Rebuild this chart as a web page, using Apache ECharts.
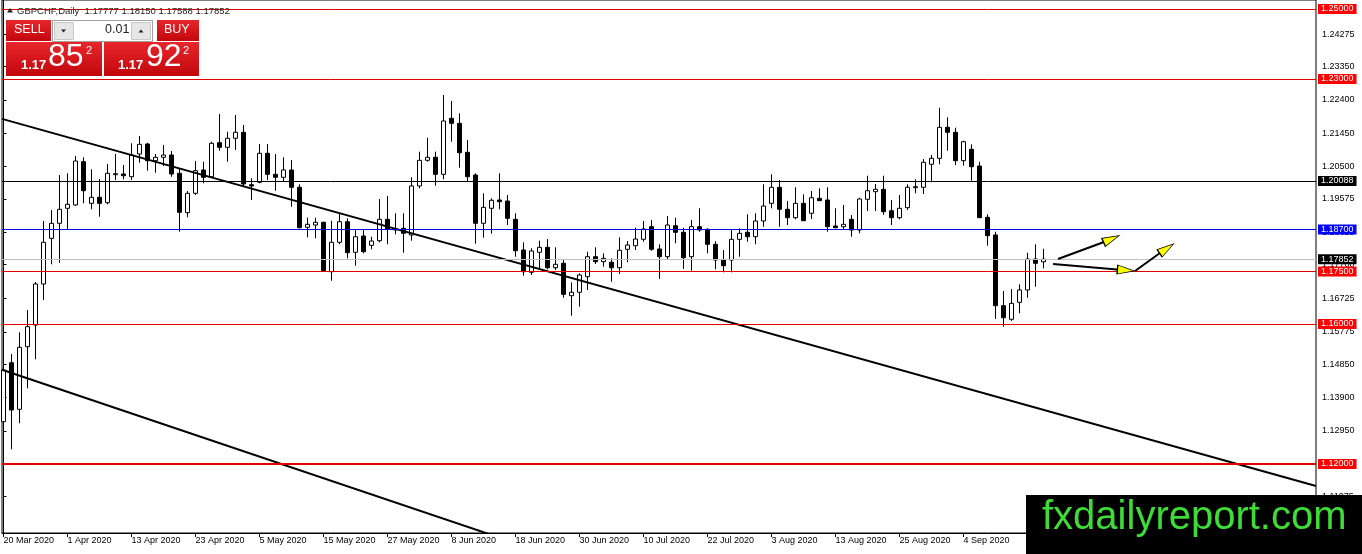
<!DOCTYPE html>
<html>
<head>
<meta charset="utf-8">
<title>GBPCHF Daily</title>
<script src="https://cdn.jsdelivr.net/npm/echarts@6/dist/echarts.min.js"></script>
<style>
html, body { margin: 0; padding: 0; background: #fff; }
#chart { width: 1362px; height: 554px; }
</style>
</head>
<body>
<div id="chart"></div>
<script>
// daily bars, index 0 = 20 Mar 2020 (weekdays only)
var opens = [
  1.13208, 1.14894, 1.13563, 1.15351, 1.15971, 1.17143, 1.18448, 1.18877, 1.19306, 1.19400,
  1.20637, 1.19448, 1.19620, 1.19466, 1.20266, 1.20286, 1.20208, 1.20857, 1.21143, 1.20666,
  1.20763, 1.20828, 1.20306, 1.19180, 1.19734, 1.20400, 1.20208, 1.21180, 1.21048, 1.21306,
  1.21477, 1.19980, 1.20048, 1.20877, 1.20277, 1.20191, 1.20400, 1.19906, 1.18763, 1.18828,
  1.18906, 1.17494, 1.18334, 1.18923, 1.18048, 1.18514, 1.18248, 1.18380, 1.18991, 1.18714,
  1.18734, 1.18543, 1.19943, 1.20677, 1.20763, 1.20277, 1.21877, 1.21734, 1.20906, 1.20257,
  1.18877, 1.19306, 1.19543, 1.19514, 1.18991, 1.18114, 1.17477, 1.18048, 1.18191, 1.17608,
  1.17734, 1.16808, 1.16906, 1.17351, 1.17923, 1.17780, 1.17763, 1.17608, 1.18134, 1.18237,
  1.18420, 1.18780, 1.18143, 1.17923, 1.18808, 1.18620, 1.17923, 1.18780, 1.18706, 1.18277,
  1.17828, 1.17828, 1.18420, 1.18620, 1.18494, 1.18943, 1.19448, 1.19906, 1.19277, 1.19037,
  1.19448, 1.19163, 1.19591, 1.19543, 1.18800, 1.18780, 1.18991, 1.18686, 1.19563, 1.19780,
  1.19848, 1.19237, 1.19037, 1.19323, 1.19894, 1.19906, 1.20563, 1.20734, 1.21620, 1.21477,
  1.20666, 1.20991, 1.20514, 1.19048, 1.18543, 1.16523, 1.16134, 1.16620, 1.16971, 1.17857,
  1.17777
];
var highs = [
  1.17066, 1.15143, 1.15763, 1.16400, 1.17200, 1.18943, 1.19257, 1.20257, 1.20306, 1.20800,
  1.20763, 1.20420, 1.20143, 1.20571, 1.20857, 1.20543, 1.21163, 1.21371, 1.21180, 1.20857,
  1.21114, 1.20943, 1.20448, 1.19800, 1.20657, 1.20637, 1.21208, 1.22000, 1.21494, 1.21971,
  1.21686, 1.20163, 1.21143, 1.21143, 1.20857, 1.20763, 1.20686, 1.19991, 1.19037, 1.19037,
  1.18923, 1.18951, 1.19163, 1.19020, 1.18714, 1.18714, 1.18494, 1.19571, 1.19657, 1.19163,
  1.19163, 1.20191, 1.20923, 1.21323, 1.20923, 1.22543, 1.22371, 1.22020, 1.21257, 1.20306,
  1.19734, 1.19591, 1.20306, 1.19686, 1.19163, 1.18334, 1.18163, 1.18380, 1.18428, 1.18191,
  1.17857, 1.17191, 1.17448, 1.18066, 1.18191, 1.18020, 1.17877, 1.18477, 1.18371, 1.18751,
  1.18943, 1.18971, 1.18277, 1.19086, 1.19037, 1.18751, 1.18971, 1.19306, 1.18734, 1.18371,
  1.18114, 1.18706, 1.18734, 1.19134, 1.19163, 1.19991, 1.20277, 1.20114, 1.19514, 1.19906,
  1.19706, 1.19800, 1.19877, 1.19906, 1.19306, 1.19400, 1.19114, 1.19608, 1.20237, 1.20000,
  1.20237, 1.19543, 1.19686, 1.19991, 1.20134, 1.20714, 1.20828, 1.22180, 1.21906, 1.21608,
  1.21237, 1.21134, 1.20637, 1.19134, 1.18637, 1.16943, 1.17000, 1.17134, 1.18037, 1.18277,
  1.18150
];
var lows = [
  1.12686, 1.12420, 1.13163, 1.14163, 1.14991, 1.16686, 1.17706, 1.17751, 1.18686, 1.19371,
  1.19448, 1.19277, 1.19066, 1.19420, 1.20114, 1.20134, 1.20114, 1.20608, 1.20380, 1.20323,
  1.20514, 1.20208, 1.18637, 1.19048, 1.19686, 1.20020, 1.20191, 1.20951, 1.20637, 1.20971,
  1.19943, 1.19543, 1.20020, 1.20114, 1.19808, 1.20066, 1.19351, 1.18734, 1.18477, 1.18448,
  1.17494, 1.17237, 1.18277, 1.17877, 1.17666, 1.18020, 1.18134, 1.18334, 1.18277, 1.18563,
  1.18037, 1.18380, 1.19877, 1.20637, 1.19951, 1.20134, 1.21208, 1.20466, 1.20086, 1.18294,
  1.18466, 1.18580, 1.19277, 1.18828, 1.17923, 1.17380, 1.17400, 1.17543, 1.17563, 1.17543,
  1.16751, 1.16237, 1.16494, 1.16971, 1.17714, 1.17637, 1.17208, 1.17428, 1.17763, 1.18114,
  1.18351, 1.18094, 1.17286, 1.17857, 1.18306, 1.17571, 1.17523, 1.18637, 1.18020, 1.17563,
  1.17477, 1.17477, 1.17923, 1.18351, 1.18277, 1.18780, 1.19306, 1.18780, 1.18828, 1.18991,
  1.18943, 1.19000, 1.19514, 1.18637, 1.18734, 1.18686, 1.18494, 1.18591, 1.19228, 1.19228,
  1.19114, 1.18828, 1.18991, 1.19257, 1.19734, 1.19714, 1.20048, 1.20563, 1.20951, 1.20543,
  1.20523, 1.20094, 1.19037, 1.18237, 1.16143, 1.15923, 1.16086, 1.16306, 1.16751, 1.17066,
  1.17588
];
var closes = [
  1.14686, 1.13543, 1.15334, 1.15923, 1.17143, 1.18334, 1.18877, 1.19277, 1.19420, 1.20657,
  1.19808, 1.19620, 1.19448, 1.20306, 1.20294, 1.20237, 1.20828, 1.21134, 1.20666, 1.20763,
  1.20828, 1.20286, 1.19191, 1.19734, 1.20380, 1.20191, 1.21163, 1.21048, 1.21306, 1.21477,
  1.20000, 1.19943, 1.20877, 1.20277, 1.20191, 1.20400, 1.19906, 1.18751, 1.18848, 1.18906,
  1.17523, 1.18334, 1.18923, 1.18037, 1.18494, 1.18066, 1.18371, 1.18991, 1.18706, 1.18686,
  1.18591, 1.19943, 1.20677, 1.20763, 1.20277, 1.21800, 1.21734, 1.20894, 1.20208, 1.18877,
  1.19334, 1.19534, 1.19494, 1.19020, 1.18094, 1.17494, 1.18086, 1.18191, 1.17608, 1.17706,
  1.16848, 1.16906, 1.17400, 1.17923, 1.17780, 1.17877, 1.17608, 1.18106, 1.18257, 1.18428,
  1.18714, 1.18134, 1.17923, 1.18828, 1.18620, 1.17894, 1.18780, 1.18686, 1.18277, 1.17828,
  1.17666, 1.18420, 1.18591, 1.18494, 1.18943, 1.19371, 1.19906, 1.19277, 1.19037, 1.19448,
  1.18951, 1.19608, 1.19523, 1.18780, 1.18751, 1.18848, 1.18686, 1.19571, 1.19808, 1.19848,
  1.19208, 1.19037, 1.19306, 1.19906, 1.19923, 1.20620, 1.20734, 1.21620, 1.21477, 1.20666,
  1.21208, 1.20494, 1.19037, 1.18523, 1.16523, 1.16180, 1.16591, 1.16971, 1.17857, 1.17734,
  1.17852
];

var askPrice = 1.17922;

// bottom axis: bar index -> date label
var xTickIdx = [0, 8, 16, 24, 32, 40, 48, 56, 64, 72, 80, 88, 96, 104, 112, 120, 128];
var xTickText = ['20 Mar 2020', '1 Apr 2020', '13 Apr 2020', '23 Apr 2020', '5 May 2020',
  '15 May 2020', '27 May 2020', '8 Jun 2020', '18 Jun 2020', '30 Jun 2020', '10 Jul 2020',
  '22 Jul 2020', '3 Aug 2020', '13 Aug 2020', '25 Aug 2020', '4 Sep 2020', '16 Sep 2020'];

// right axis ticks
var yTicks = [1.24275, 1.23350, 1.22400, 1.21450, 1.20500, 1.19575, 1.18625, 1.17700,
  1.16725, 1.15775, 1.14850, 1.13900, 1.12950, 1.12000, 1.11075];

// horizontal levels
var levels = [1.25000, 1.23000, 1.20088, 1.18700, 1.17852, 1.17500, 1.16000, 1.12000];

// trend lines [barIndex, price]
var trendUpper = [[-0.1875, 1.21860], [164.0625, 1.11371]];
var trendLower = [[-0.1875, 1.14694], [80, 1.08509]];

// arrows drawn on the chart
var arrowLines = [
  [[131.81, 1.17857], [137.56, 1.18343]],
  [[131.19, 1.17714], [139.19, 1.17557]],
  [[141.44, 1.17514], [144.56, 1.18029]]
];
var arrowHeads = [[138.49, 1.18429], [140.30, 1.17536], [145.40, 1.18157]];
var arrowHeadRotate = [-66.5, -94.7, -56];

var X_MIN = -0.1875, X_MAX = 164.0625;
var FONT = '"Liberation Sans", Arial, sans-serif';
var RED_LINE = '#e00000';

// null line colour = default red
var levelStyle = [
  { line: null, box: '#ff0000', w: 1 },
  { line: null, box: '#ff0000', w: 1 },
  { line: '#000000', box: '#000000', w: 1 },
  { line: '#0000e0', box: '#0000ff', w: 1 },
  { line: '#c0c0c0', box: '#000000', w: 1 },
  { line: null, box: '#ff0000', w: 1 },
  { line: null, box: '#ff0000', w: 1 },
  { line: null, box: '#ff0000', w: 2 }
];

var last = closes.length - 1;
var candleData = opens.map(function (o, i) {
  return [i, o, closes[i], lows[i], highs[i]];
});

var levelLines = levels.map(function (v, i) {
  var s = levelStyle[i];
  var item = { yAxis: v, label: { backgroundColor: s.box } };
  if (s.line || s.w !== 1) {
    item.lineStyle = { color: s.line || RED_LINE, width: s.w, type: 'solid', opacity: 1 };
  }
  return item;
});

var headerText = 'GBPCHF,Daily  ' + [opens[last], highs[last], lows[last], closes[last]]
  .map(function (v) { return v.toFixed(5); }).join(' ');

function priceParts(v) {
  var s = v.toFixed(5);
  return [s.slice(0, 4), s.slice(4, 6), s.slice(6)];
}
var bidParts = priceParts(closes[last]);
var askParts = priceParts(askPrice);

var panelRed = {
  type: 'linear', x: 0, y: 0, x2: 0, y2: 1,
  colorStops: [{ offset: 0, color: '#e8262b' }, { offset: 1, color: '#c1070c' }]
};

function txt(x, y, s, size, color, weight) {
  return {
    type: 'text', x: x, y: y, z: 100,
    style: { text: s, fill: color, font: (weight || 'normal') + ' ' + size + 'px ' + FONT }
  };
}

var graphics = [
  { type: 'polygon', z: 100, shape: { points: [[7, 12.5], [13, 12.5], [10, 8]] }, style: { fill: '#222' } },
  txt(17, 6, headerText, 9.5, '#222'),
  { type: 'rect', z: 100, shape: { x: 6, y: 20, width: 45, height: 21 }, style: { fill: panelRed } },
  { type: 'line', z: 101, shape: { x1: 10, y1: 41.5, x2: 48, y2: 41.5 }, style: { stroke: 'rgba(255,255,255,0.6)' } },
  txt(14, 23.5, 'SELL', 12.5, '#fff'),
  { type: 'rect', z: 100, shape: { x: 52.5, y: 20.5, width: 100, height: 21 }, style: { fill: '#fff', stroke: '#a0a0a0' } },
  { type: 'rect', z: 100, shape: { x: 54.5, y: 22.5, width: 19, height: 17 }, style: { fill: '#e6e6e6', stroke: '#c8c8c8' } },
  { type: 'polygon', z: 101, shape: { points: [[61, 29.5], [66, 29.5], [63.5, 32.5]] }, style: { fill: '#222' } },
  { type: 'rect', z: 100, shape: { x: 131.5, y: 22.5, width: 19, height: 17 }, style: { fill: '#e6e6e6', stroke: '#c8c8c8' } },
  { type: 'polygon', z: 101, shape: { points: [[138.5, 32.5], [143.5, 32.5], [141, 29.5]] }, style: { fill: '#222' } },
  txt(105, 23.5, '0.01', 12.5, '#222'),
  { type: 'rect', z: 100, shape: { x: 157, y: 20, width: 42, height: 21 }, style: { fill: panelRed } },
  { type: 'line', z: 101, shape: { x1: 160, y1: 41.5, x2: 196, y2: 41.5 }, style: { stroke: 'rgba(255,255,255,0.6)' } },
  txt(164, 23.5, 'BUY', 12.5, '#fff'),
  { type: 'rect', z: 100, shape: { x: 6, y: 42, width: 96, height: 34 }, style: { fill: panelRed } },
  { type: 'rect', z: 100, shape: { x: 104, y: 42, width: 95, height: 34 }, style: { fill: panelRed } },
  txt(21, 58.5, bidParts[0], 13, '#fff', 'bold'),
  txt(48, 41, bidParts[1], 32, '#fff'),
  txt(86, 45, bidParts[2], 11, '#fff'),
  txt(118, 58.5, askParts[0], 13, '#fff', 'bold'),
  txt(146, 41, askParts[1], 32, '#fff'),
  txt(183, 45, askParts[2], 11, '#fff'),
  { type: 'rect', z: 100, shape: { x: 1026, y: 495, width: 336, height: 59 }, style: { fill: '#000' } },
  txt(1042, 498, 'fxdailyreport.com', 40, '#3ddc36')
];

var series = [{
  type: 'candlestick',
  name: 'GBPCHF',
  data: candleData,
  barWidth: 4,
  clip: false,
  silent: true,
  z: 3,
  itemStyle: {
    color: '#ffffff', color0: '#000000',
    borderColor: '#000000', borderColor0: '#000000', borderColorDoji: '#000000',
    borderWidth: 1
  },
  markLine: {
    silent: true,
    symbol: 'none',
    animation: false,
    precision: 5,
    lineStyle: { color: RED_LINE, width: 1, type: 'solid', opacity: 1 },
    label: {
      show: true, position: 'end', distance: 2,
      formatter: function (p) { return Number(p.value).toFixed(5); },
      color: '#fff', fontFamily: FONT, fontSize: 9, lineHeight: 9,
      padding: [1, 3, 0, 3]
    },
    data: levelLines
  }
}];

[trendUpper, trendLower].forEach(function (seg) {
  series.push({
    type: 'line', data: seg, symbol: 'none', silent: true, z: 4,
    color: '#000', lineStyle: { color: '#000', width: 2 }
  });
});

arrowLines.forEach(function (seg) {
  series.push({
    type: 'line', data: seg, symbol: 'none', silent: true, z: 5,
    color: '#000', lineStyle: { color: '#000', width: 2 }
  });
});

series.push({
  type: 'scatter',
  silent: true,
  z: 6,
  symbol: 'triangle',
  symbolSize: [9, 17],
  itemStyle: { color: '#ffff00', borderColor: '#000', borderWidth: 1, opacity: 1 },
  data: arrowHeads.map(function (p, i) {
    return { value: p, symbolRotate: arrowHeadRotate[i] };
  })
});

var chart = echarts.init(document.getElementById('chart'));

var option = {
  animation: false,
  backgroundColor: '#fff',
  textStyle: { fontFamily: FONT },
  grid: {
    left: 2, right: 46, top: 0, bottom: 21,
    show: true, borderColor: '#000', borderWidth: 1, backgroundColor: '#fff'
  },
  xAxis: {
    type: 'value',
    min: X_MIN,
    max: X_MAX,
    splitLine: { show: false },
    axisLine: { lineStyle: { color: '#000', width: 1 } },
    axisTick: { show: true, customValues: xTickIdx, length: 4, lineStyle: { color: '#000' } },
    axisLabel: {
      customValues: xTickIdx,
      align: 'left',
      margin: 3,
      color: '#000',
      fontFamily: FONT,
      fontSize: 9,
      formatter: function (v) {
        var i = xTickIdx.indexOf(Math.round(v));
        return i < 0 ? '' : xTickText[i];
      }
    }
  },
  yAxis: {
    type: 'value',
    position: 'right',
    min: 1.100286,
    max: 1.252571,
    splitLine: { show: false },
    axisLine: { show: true, lineStyle: { color: '#000', width: 1 } },
    axisTick: { show: true, customValues: yTicks, length: 3, lineStyle: { color: '#000' } },
    axisLabel: {
      customValues: yTicks,
      margin: 6,
      color: '#000',
      fontFamily: FONT,
      fontSize: 9,
      formatter: function (v) { return v.toFixed(5); }
    }
  },
  graphic: graphics,
  series: series
};

chart.setOption(option);
</script>
</body>
</html>
